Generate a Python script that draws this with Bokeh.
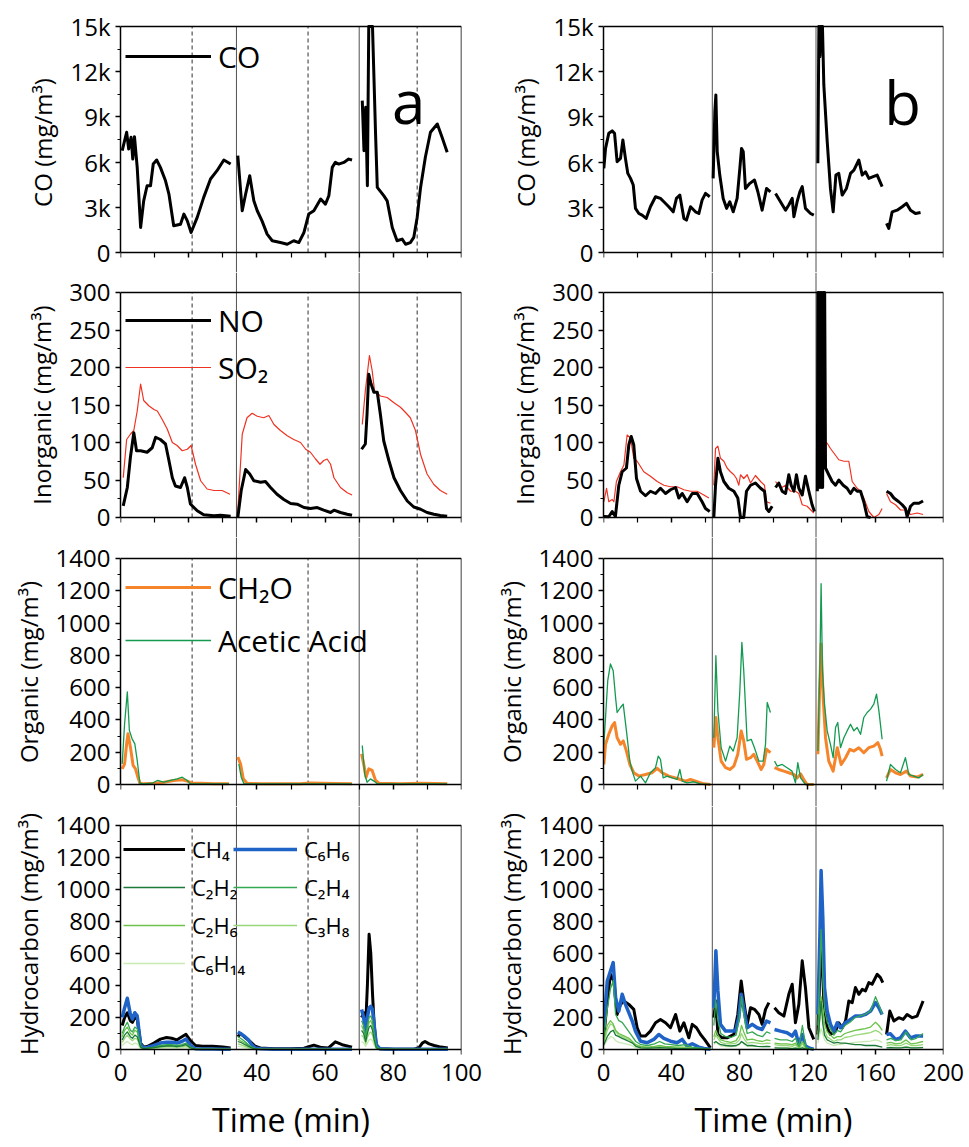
import numpy as np
from bokeh.plotting import figure
from bokeh.models import (Range1d, LinearAxis, FixedTicker, Legend, LegendItem, Label,
                          CustomJSTickFormatter)
from bokeh.layouts import gridplot
from bokeh.embed import file_html
from bokeh.resources import INLINE

nan = float("nan")

# ---------------------------------------------------------------- data (a)
x_ticks_a = [0, 20, 40, 60, 80, 100]
x_minor_a = [10, 30, 50, 70, 90]
events_a = [34, 70]
dashes_a = [21, 55, 87]

co_a_t = [[0.5, 1.8, 2.4, 3.1, 3.6, 4.1, 4.9, 5.9, 6.8, 7.8, 8.8, 9.6, 10.6, 11.7, 13.2, 14.2, 15.6, 17.6, 18.6, 19.6, 20.7, 22.5, 24.4, 26.4, 28.3, 30.3, 32.3],
          [34.4, 35.7, 36.7, 37.9, 39.1, 40.1, 41.5, 43.0, 44.5, 46.9, 48.9, 50.8, 52.3, 53.8, 55.2, 56.7, 58.7, 60.1, 61.1, 62.1, 63.0, 64.0, 65.5, 66.9, 67.9],
          [70.9, 71.4, 71.9, 72.4, 72.8, 73.9, 74.8, 75.3, 77.2, 78.2, 79.7, 81.1, 82.6, 83.6, 85.0, 86.0, 87.0, 88.0, 89.4, 90.9, 92.9, 94.3, 95.8]]
co_a = [[6760, 7980, 6870, 7650, 6200, 7690, 5650, 1660, 3430, 4430, 4430, 5870, 6140, 5650, 4760, 3880, 1770, 1880, 2550, 2100, 1330, 2330, 3660, 4880, 5430, 6140, 5870],
        [6430, 2770, 3880, 5100, 3430, 2770, 2100, 1220, 780, 660, 550, 780, 660, 1330, 2550, 2770, 3550, 3210, 3770, 5650, 5980, 5870, 5980, 6200, 6140],
        [10080, 6760, 9640, 4430, 16500, 16500, 7870, 4320, 3770, 3430, 1660, 780, 890, 550, 660, 1000, 2330, 4320, 6320, 7980, 8530, 7650, 6650]]

no_a_t = [[0.8, 2.0, 2.9, 3.9, 4.7, 5.9, 7.8, 9.3, 10.3, 11.7, 13.2, 14.2, 15.2, 16.1, 17.6, 18.8, 19.6, 20.5, 22.5, 24.4, 27.4, 29.3, 32.3],
          [34.4, 35.4, 36.7, 37.9, 39.1, 41.1, 42.5, 44.0, 45.9, 47.9, 49.9, 51.8, 53.8, 55.7, 57.7, 59.6, 61.6, 62.6, 64.5, 66.5, 67.9],
          [70.7, 71.8, 72.3, 72.8, 73.5, 74.3, 75.3, 76.2, 77.2, 78.7, 80.2, 82.1, 84.1, 86.0, 88.0, 89.9, 91.9, 93.8, 95.8]]
no_a = [[15.6, 40, 80, 113, 89, 89, 87, 93, 107, 104, 98, 76, 53, 42, 40, 53, 40, 18, 9, 3.6, 2.2, 3, 1.8],
        [0, 36, 64, 58, 49, 47, 48, 40, 31, 24, 18.7, 17.8, 13.3, 12, 13.3, 9.8, 6.7, 9.8, 6.7, 4.4, 3],
        [91, 98, 138, 191, 178, 167, 167, 138, 102, 76, 53, 36, 22, 14, 11, 6.7, 4.4, 2.7, 1.8]]

so2_a_t = [[0.8, 1.8, 2.9, 3.9, 4.9, 5.9, 6.8, 8.3, 9.8, 10.8, 12.2, 13.7, 15.2, 16.6, 18.1, 19.6, 20.7, 22.0, 23.5, 25.4, 27.4, 29.8, 32.1],
           [34.4, 35.7, 37.1, 38.6, 40.1, 42.0, 43.5, 45.0, 46.9, 48.9, 50.8, 52.8, 54.3, 55.7, 57.2, 58.5, 59.6, 60.6, 61.6, 62.6, 64.5, 66.5, 67.9],
           [70.9, 71.8, 73.0, 73.8, 74.5, 76.2, 78.2, 80.2, 82.1, 83.6, 85.0, 86.5, 88.0, 89.9, 91.9, 93.8, 95.8]]
so2_a = [[53, 104, 111, 116, 142, 178, 156, 149, 144, 142, 131, 118, 100, 96, 89, 91, 96, 71, 49, 38, 36, 36, 31],
         [9, 111, 133, 139, 135, 133, 136, 124, 116, 109, 104, 100, 91, 87, 78, 71, 76, 78, 71, 53, 40, 33, 30],
         [124, 169, 216, 196, 169, 162, 160, 153, 147, 140, 133, 116, 84, 58, 44, 36, 31]]

ch2o_a_t = [[0.5, 1.2, 1.8, 2.2, 2.9, 3.7, 4.4, 5.1, 5.7, 6.8, 9.8, 12.7, 15.6, 18.1, 19.6, 21.0, 23.5, 27.4, 31.8],
            [34.4, 35.2, 36.0, 37.1, 41.1, 52.8, 55.7, 62.6, 67.9],
            [70.7, 71.4, 72.0, 72.8, 73.8, 74.8, 75.8, 82.1, 88.0, 95.8]]
ch2o_a = [[97, 128, 252, 314, 232, 118, 97, 45, 8, 4, 8, 14, 25, 29, 21, 8, 8, 4, 4],
          [170, 128, 35, 8, 4, 4, 10, 6, 4],
          [190, 118, 45, 97, 87, 25, 8, 4, 8, 4]]

acetic_a_t = [[0.5, 1.2, 2.0, 2.6, 3.4, 4.2, 4.9, 5.7, 6.8, 9.3, 10.8, 12.7, 14.7, 16.6, 18.1, 19.6, 20.5, 25.0, 31.8],
              [34.7, 35.4, 36.2, 50.0, 67.9],
              [70.9, 71.6, 72.3, 73.3, 74.3, 75.3, 85.0, 95.8]]
acetic_a = [[128, 376, 573, 335, 283, 252, 149, 8, 4, 8, 25, 14, 25, 35, 45, 25, 4, 4, 4],
            [128, 45, 4, 4, 4],
            [242, 66, 14, 35, 21, 4, 4, 4]]

hc_a_t = [[0.5, 1.2, 2.0, 2.9, 3.5, 4.2, 4.9, 5.9, 6.8, 8.0, 9.8, 11.7, 13.5, 15.0, 16.5, 18.0, 19.2, 20.5, 22.0, 24.0, 27.0, 30.0, 32.3],
          [34.4, 35.2, 36.5, 37.5, 38.5, 39.5, 41.0, 45.0, 50.0, 53.8, 56.7, 59.0, 61.0, 63.0, 65.0, 67.9],
          [70.7, 71.3, 71.9, 72.4, 72.9, 73.4, 73.9, 74.4, 75.0, 76.0, 80.0, 86.0, 87.5, 88.5, 89.3, 90.5, 92.0, 94.0, 96.0]]
ch4_a = [[150, 200, 230, 180, 170, 200, 190, 40, 15, 20, 40, 65, 75, 70, 60, 80, 95, 55, 25, 20, 20, 15, 10],
         [80, 100, 75, 60, 40, 20, 10, 5, 5, 8, 27, 12, 10, 48, 30, 15],
         [200, 230, 150, 400, 720, 600, 350, 150, 30, 5, 2, 2, 10, 40, 50, 35, 25, 15, 10]]
c6h6_a = [[200, 260, 320, 220, 190, 230, 210, 30, 10, 15, 25, 40, 45, 45, 40, 50, 65, 25, 5, 3, 3, 2, 2],
          [110, 100, 80, 60, 30, 10, 5, 2, 2, 2, 2, 2, 2, 2, 2, 2],
          [250, 200, 100, 200, 260, 270, 250, 150, 30, 5, 2, 2, 2, 2, 2, 2, 2, 2, 2]]
c2h2_a = [[60, 90, 110, 80, 70, 90, 80, 15, 4, 8, 12, 18, 22, 22, 18, 22, 30, 10, 2, 1, 1, 1, 1],
          [50, 45, 30, 20, 10, 3, 1, 1, 1, 1, 1, 1, 1, 1, 1, 1],
          [120, 100, 50, 100, 140, 150, 120, 60, 10, 2, 1, 1, 1, 1, 1, 1, 1, 1, 1]]
c2h4_a = [[100, 140, 170, 120, 110, 140, 130, 20, 5, 10, 15, 25, 30, 30, 25, 30, 40, 15, 3, 2, 2, 1, 1],
          [80, 70, 50, 30, 15, 5, 2, 1, 1, 1, 1, 1, 1, 1, 1, 1],
          [180, 150, 80, 150, 200, 210, 180, 100, 20, 3, 1, 1, 1, 1, 1, 1, 1, 1, 1]]
c2h6_a = [[80, 120, 140, 100, 90, 120, 110, 15, 4, 8, 12, 20, 25, 25, 20, 25, 35, 12, 2, 1, 1, 1, 1],
          [65, 55, 40, 25, 12, 4, 1, 1, 1, 1, 1, 1, 1, 1, 1, 1],
          [150, 120, 60, 120, 170, 180, 150, 80, 15, 2, 1, 1, 1, 1, 1, 1, 1, 1, 1]]
c3h8_a = [[45, 70, 90, 65, 55, 70, 65, 10, 3, 6, 9, 14, 16, 16, 14, 16, 22, 8, 1, 1, 1, 1, 1],
          [35, 30, 20, 12, 6, 2, 1, 1, 1, 1, 1, 1, 1, 1, 1, 1],
          [90, 75, 35, 75, 100, 110, 90, 45, 8, 1, 1, 1, 1, 1, 1, 1, 1, 1, 1]]
c6h14_a = [[25, 40, 50, 35, 30, 40, 35, 6, 2, 4, 6, 8, 10, 10, 8, 10, 14, 5, 1, 1, 1, 1, 1],
           [20, 18, 12, 8, 4, 1, 1, 1, 1, 1, 1, 1, 1, 1, 1, 1],
           [50, 40, 20, 40, 60, 65, 55, 25, 5, 1, 1, 1, 1, 1, 1, 1, 1, 1, 1]]

# ---------------------------------------------------------------- data (b)
x_ticks_b = [0, 40, 80, 120, 160, 200]
x_minor_b = [20, 60, 100, 140, 180]
events_b = [64, 125]

co_b_t = [[0.2, 1.2, 3.1, 5.1, 6.5, 8.0, 10.0, 11.4, 12.9, 14.3, 15.9, 17.5, 18.8, 20.8, 22.7, 25.1, 27.6, 30.6, 33.5, 35.5, 38.4, 41.0, 42.9, 44.9, 47.3, 48.8, 51.2, 54.1, 56.1, 58.0, 60.0, 62.5],
          [64.5, 65.5, 66.1, 66.9, 68.4, 70.4, 72.4, 74.3, 76.3, 78.6, 80.2, 81.2, 82.2, 83.5, 86.1, 88.8, 90.8, 93.3, 95.9, 98.2],
          [101.2, 104.1, 107.1, 109.0, 111.0, 112.0, 113.9, 115.5, 116.9, 118.8, 121.8, 123.7],
          [126.1, 126.4, 126.7, 127.3, 127.8, 128.8, 129.6, 131.6, 133.5, 135.1, 136.7, 138.4, 140.4, 142.9, 145.3, 147.3, 150.2, 152.2, 154.1, 156.1, 158.6, 161.0, 163.9],
          [166.5, 167.8, 169.8, 172.7, 175.7, 178.2, 180.6, 183.5, 186.5]]
co_b = [[5580, 6910, 7910, 8070, 7910, 6030, 6250, 7470, 6250, 5250, 4920, 4480, 2930, 2590, 2480, 2260, 3040, 3700, 3590, 3370, 3040, 2700, 3590, 3810, 2260, 2150, 3040, 2700, 2590, 3480, 3920, 3700],
        [4920, 9350, 10460, 6690, 5140, 3590, 2930, 3370, 2700, 3590, 5580, 6910, 6690, 4250, 4590, 4810, 4030, 2810, 4250, 4030],
        [3920, 3370, 2810, 3150, 3590, 2370, 3370, 4030, 4370, 2930, 2590, 2480],
        [5920, 10500, 16500, 13000, 16500, 16500, 11120, 7360, 4250, 2700, 5140, 5250, 3810, 4250, 5250, 5470, 6140, 5140, 5360, 4920, 5030, 5140, 4370],
        [1930, 1600, 2700, 2810, 3040, 3260, 2810, 2590, 2660]]

no_b_t = [[0.2, 3.1, 5.1, 7.0, 9.0, 11.0, 13.5, 14.9, 16.3, 17.8, 19.4, 21.8, 24.7, 27.6, 30.6, 33.5, 36.5, 39.4, 42.4, 44.3, 46.3, 49.2, 52.2, 55.1, 58.0, 60.0, 62.5],
          [64.9, 65.9, 67.3, 68.8, 70.8, 73.7, 76.7, 79.0, 80.6, 82.5, 84.1, 86.5, 89.4, 92.4, 94.7, 95.9, 97.3, 99.2],
          [101.2, 103.1, 105.1, 107.1, 109.0, 110.4, 112.0, 113.5, 114.9, 116.9, 118.8, 120.8, 122.7, 124.1],
          [125.8, 126.1, 126.5, 126.9, 127.3, 127.7, 128.1, 128.5, 128.9, 129.3, 129.7, 130.1, 130.6, 132.5, 134.5, 136.5, 138.4, 141.0, 143.3, 145.3, 147.3, 149.2, 151.2, 153.1, 155.1, 157.1],
          [166.5, 168.8, 170.8, 173.7, 175.7, 177.6, 178.6, 180.6, 182.5, 185.5, 188.0]]
no_b = [[1.3, 1, 8, 1.3, 43, 61, 66, 97, 108, 97, 52, 35, 29, 35, 32, 39, 32, 37, 40, 26, 32, 21, 32, 32, 21, 12, 8],
        [0, 43, 79, 61, 48, 39, 35, 26, 0, 0, 35, 43, 46, 39, 35, 12, 8, 15],
        [40, 46, 35, 32, 57, 43, 35, 57, 39, 30, 55, 35, 17, 8],
        [35, 400, 40, 400, 40, 400, 40, 400, 40, 400, 160, 400, 66, 57, 48, 43, 50, 43, 39, 32, 39, 35, 35, 21, 1, 0],
        [35, 32, 26, 21, 17, 12, 1, 15, 19, 19, 22]]

so2_b_t = [[0.2, 1.8, 3.1, 5.1, 6.1, 7.6, 10.0, 12.0, 13.9, 15.9, 17.8, 19.8, 23.7, 27.6, 31.6, 35.5, 39.4, 43.3, 47.3, 51.2, 55.1, 59.0, 62.0],
           [64.9, 65.9, 67.3, 68.8, 70.8, 72.7, 74.7, 76.7, 78.2, 79.6, 80.6, 82.5, 84.5, 86.5, 89.4, 92.4, 94.7, 95.9, 98.2],
           [101.2, 104.1, 107.1, 110.0, 112.9, 114.9, 116.9, 119.8, 123.7],
           [126.0, 128.0, 130.6, 131.6, 133.5, 135.5, 138.4, 141.4, 144.3, 146.3, 149.2, 151.2, 153.1, 156.1, 159.0, 162.0, 163.9],
           [166.5, 168.8, 171.8, 174.7, 177.6, 180.6, 184.5, 188.0]]
so2_b = [[21, 39, 21, 24, 21, 48, 61, 70, 110, 106, 79, 75, 61, 55, 48, 43, 41, 41, 37, 35, 35, 30, 26],
         [43, 92, 95, 79, 75, 66, 61, 57, 52, 43, 57, 52, 57, 46, 56, 48, 43, 21, 19],
         [48, 39, 43, 35, 35, 32, 17, 15, 6],
         [120, 250, 100, 99, 92, 86, 77, 75, 75, 48, 39, 35, 26, 8, 0, 4, 12],
         [32, 21, 17, 10, 10, 4, 6, 4]]

ch2o_b_t = [[0.2, 1.2, 3.1, 5.1, 6.5, 8.0, 10.0, 11.6, 13.5, 15.5, 17.8, 20.8, 24.7, 28.6, 31.6, 34.5, 38.4, 42.4, 45.3, 48.2, 51.2, 55.1, 59.0, 62.9],
            [64.9, 66.1, 67.3, 69.2, 71.8, 74.3, 76.7, 79.0, 81.0, 82.5, 84.1, 86.5, 88.4, 90.4, 92.7, 94.3, 95.9, 98.2],
            [100.6, 103.1, 106.1, 109.0, 112.0, 113.9, 115.9, 117.8, 119.8, 123.7],
            [126.1, 127.1, 128.0, 129.2, 130.6, 132.5, 135.1, 137.5, 139.8, 142.4, 144.9, 147.3, 150.2, 153.1, 156.1, 159.0, 161.4, 162.9, 163.9],
            [166.5, 168.8, 171.8, 174.7, 178.2, 180.6, 184.5, 188.0]]
ch2o_b = [[124, 249, 311, 363, 384, 290, 249, 270, 207, 124, 73, 52, 62, 73, 100, 73, 52, 41, 31, 21, 31, 17, 4, 0],
          [228, 415, 290, 145, 104, 93, 114, 187, 332, 270, 156, 166, 187, 145, 93, 124, 218, 197],
          [104, 93, 83, 73, 62, 41, 66, 31, 0, 0],
          [187, 581, 871, 539, 290, 145, 83, 228, 124, 166, 218, 207, 228, 197, 228, 238, 259, 218, 176],
          [41, 93, 73, 62, 83, 52, 46, 62]]

acetic_b_t = [[0.2, 1.2, 2.5, 4.1, 5.7, 7.1, 8.0, 10.0, 11.6, 13.5, 15.5, 16.9, 18.8, 21.8, 24.7, 27.6, 30.6, 32.2, 33.5, 35.1, 37.5, 40.4, 43.3, 44.9, 46.3, 49.2, 53.1, 57.1, 62.9],
              [64.9, 66.1, 67.3, 69.2, 71.8, 74.3, 76.3, 78.6, 80.2, 81.4, 82.5, 84.5, 86.9, 88.8, 91.4, 93.9, 95.3, 96.3, 98.2],
              [100.6, 102.2, 105.1, 108.0, 110.9, 112.9, 114.3, 115.9, 118.8, 123.7],
              [126.1, 127.3, 128.0, 128.8, 130.0, 131.6, 133.5, 135.1, 136.5, 137.8, 139.4, 141.4, 143.3, 145.3, 147.3, 149.2, 151.2, 153.1, 155.1, 157.1, 159.0, 160.6, 162.0, 163.9],
              [166.5, 168.8, 171.8, 174.7, 177.6, 179.6, 182.5, 185.5, 188.0]]
acetic_b = [[249, 415, 643, 747, 705, 539, 446, 477, 498, 332, 145, 83, 21, 52, 10, 73, 104, 176, 156, 41, 52, 41, 31, 93, 21, 10, 17, 4, 0],
            [290, 798, 456, 228, 145, 238, 207, 290, 581, 881, 705, 270, 280, 228, 145, 145, 249, 508, 446],
            [145, 114, 124, 104, 83, 10, 135, 41, 0, 0],
            [207, 747, 1244, 705, 498, 332, 249, 166, 353, 384, 228, 290, 332, 373, 332, 353, 311, 415, 446, 467, 498, 560, 456, 280],
            [21, 124, 93, 73, 166, 62, 52, 41, 62]]

ch4_b_t = [[0.2, 2.2, 4.1, 6.1, 8.0, 10.0, 12.0, 14.9, 17.8, 19.8, 21.8, 24.7, 27.6, 30.6, 33.5, 36.5, 39.4, 42.4, 44.9, 47.3, 50.2, 52.2, 54.7, 57.1, 59.4, 62.9],
           [64.9, 66.1, 67.3, 69.8, 72.7, 76.7, 79.0, 81.0, 82.5, 84.5, 86.5, 88.8, 91.4, 93.3, 95.3, 97.3],
           [100.6, 103.1, 106.1, 109.0, 111.0, 112.9, 114.9, 116.9, 118.8, 120.8, 123.7],
           [126.1, 128.0, 129.6, 131.6, 133.5, 136.5, 138.4, 140.4, 142.4, 144.3, 146.3, 148.2, 150.2, 152.2, 154.1, 156.1, 158.0, 161.0, 162.9, 164.3],
           [166.5, 168.4, 170.8, 173.7, 176.3, 178.6, 181.6, 184.5, 188.0]]
ch4_b = [[84, 303, 470, 428, 219, 282, 303, 282, 251, 136, 84, 84, 115, 167, 188, 167, 136, 219, 115, 167, 73, 157, 136, 94, 63, 10],
         [199, 303, 94, 73, 73, 94, 219, 428, 303, 157, 261, 251, 219, 157, 251, 293],
         [261, 230, 209, 345, 408, 167, 282, 554, 387, 136, 63],
         [94, 720, 303, 136, 94, 115, 167, 136, 178, 303, 293, 387, 345, 376, 366, 418, 408, 470, 449, 418],
         [94, 240, 178, 199, 188, 219, 199, 209, 303]]

c6h6_b_t = [[0.2, 2.2, 4.1, 5.7, 7.1, 9.0, 11.0, 12.9, 14.9, 16.9, 18.8, 21.8, 25.7, 29.6, 32.5, 35.5, 39.4, 43.3, 46.3, 49.2, 52.2, 56.1, 59.0, 62.9],
            [64.9, 66.1, 67.3, 68.8, 71.8, 74.7, 77.6, 79.6, 81.0, 82.5, 84.5, 87.5, 90.4, 93.3, 95.9, 98.2],
            [100.6, 104.1, 108.0, 111.0, 112.9, 114.9, 116.9, 118.8, 121.8, 123.7],
            [126.1, 127.3, 128.0, 129.0, 130.0, 131.6, 133.5, 135.5, 137.5, 139.4, 142.4, 145.3, 148.2, 151.2, 154.1, 157.1, 160.0, 162.0, 163.9],
            [166.5, 168.8, 171.8, 174.7, 177.6, 180.6, 183.5, 188.0]]
c6h6_b = [[136, 428, 491, 543, 324, 240, 345, 282, 230, 178, 115, 52, 42, 63, 94, 69, 52, 42, 63, 21, 36, 15, 6, 2],
          [261, 617, 366, 157, 115, 115, 115, 199, 345, 261, 136, 157, 136, 125, 178, 167],
          [125, 115, 105, 84, 115, 31, 94, 21, 6, 2],
          [219, 721, 1118, 826, 387, 240, 157, 115, 167, 136, 167, 188, 209, 209, 219, 240, 293, 261, 219],
          [94, 98, 63, 73, 115, 73, 84, 84]]

hc_b_t = [[0.2, 2.2, 4.1, 5.7, 7.1, 9.0, 11.0, 13.0, 15.0, 17.0, 19.0, 22.0, 26.0, 30.0, 33.0, 36.0, 40.0, 44.0, 48.0, 52.0, 56.0, 60.0, 63.0],
          [64.9, 66.1, 67.3, 69.0, 72.0, 75.0, 78.0, 80.0, 81.2, 82.5, 84.5, 87.5, 90.5, 93.5, 96.0, 98.2],
          [100.6, 104.0, 108.0, 111.0, 113.0, 115.0, 117.0, 119.0, 121.0, 123.7],
          [126.1, 127.3, 128.0, 129.0, 130.0, 131.6, 133.5, 135.5, 137.5, 139.5, 142.0, 145.0, 148.0, 151.0, 154.0, 157.0, 160.0, 162.0, 164.0],
          [166.5, 169.0, 172.0, 175.0, 178.0, 181.0, 184.0, 188.0]]
c2h2_b = [[30, 80, 110, 120, 90, 80, 70, 60, 50, 40, 20, 10, 8, 10, 12, 10, 8, 6, 6, 4, 3, 2, 1],
          [40, 50, 40, 30, 25, 22, 25, 35, 50, 40, 25, 25, 20, 18, 20, 18],
          [10, 8, 8, 6, 8, 4, 10, 3, 1, 1],
          [60, 200, 300, 160, 90, 60, 50, 40, 45, 40, 40, 35, 30, 30, 25, 25, 25, 20, 15],
          [10, 12, 10, 10, 15, 10, 10, 12]]
c2h4_b = [[80, 250, 380, 430, 220, 180, 170, 140, 110, 80, 50, 30, 25, 35, 50, 35, 30, 25, 30, 15, 10, 5, 2],
          [150, 310, 180, 100, 80, 75, 90, 200, 330, 220, 100, 110, 90, 80, 110, 100],
          [70, 60, 60, 50, 70, 20, 150, 15, 5, 2],
          [150, 500, 750, 450, 250, 170, 130, 90, 120, 110, 150, 170, 200, 210, 220, 240, 330, 280, 220],
          [60, 70, 55, 60, 110, 60, 70, 100]]
c2h6_b = [[60, 150, 180, 160, 120, 100, 90, 80, 70, 50, 30, 20, 15, 20, 25, 20, 18, 15, 15, 10, 6, 3, 1],
          [80, 120, 90, 60, 50, 45, 55, 90, 150, 110, 60, 65, 55, 50, 60, 55],
          [40, 35, 35, 30, 40, 12, 50, 10, 3, 1],
          [100, 250, 330, 250, 160, 110, 90, 70, 80, 80, 100, 110, 120, 125, 130, 140, 170, 150, 120],
          [40, 45, 35, 40, 60, 35, 40, 50]]
c3h8_b = [[40, 120, 160, 150, 110, 90, 80, 70, 60, 45, 25, 15, 12, 15, 18, 15, 12, 10, 10, 8, 5, 2, 1],
          [60, 90, 70, 45, 35, 35, 40, 60, 100, 70, 40, 45, 40, 35, 40, 38],
          [30, 25, 25, 20, 30, 8, 35, 6, 2, 1],
          [80, 200, 260, 200, 120, 80, 65, 50, 60, 60, 75, 80, 90, 95, 100, 105, 120, 110, 90],
          [25, 30, 25, 25, 40, 25, 25, 30]]
c6h14_b = [[20, 60, 80, 75, 55, 45, 40, 35, 30, 22, 12, 8, 6, 8, 9, 8, 6, 5, 5, 4, 2, 1, 1],
           [30, 45, 35, 22, 18, 18, 20, 30, 50, 35, 20, 22, 20, 18, 20, 19],
           [15, 12, 12, 10, 15, 4, 18, 3, 1, 1],
           [40, 100, 130, 100, 60, 40, 32, 25, 30, 30, 38, 40, 45, 48, 50, 52, 60, 55, 45],
           [12, 15, 12, 12, 20, 12, 12, 15]]

# axis scales
co_ticks = [0, 3000, 6000, 9000, 12000, 15000]
co_minor = [1500, 4500, 7500, 10500, 13500]
inorg_ticks = [0, 50, 100, 150, 200, 250, 300]
inorg_minor = [25, 75, 125, 175, 225, 275]
org_ticks = [0, 200, 400, 600, 800, 1000, 1200, 1400]
org_minor = [100, 300, 500, 700, 900, 1100, 1300]

# ---------------------------------------------------------------- styling
FONT = "Open Sans"
C_SO2 = "#ee3322"
C_CH2O = "#f5842a"
C_AC = "#139a50"
C_C6H6 = "#1f63c6"
C_C2H2 = "#1c7a3a"
C_C2H4 = "#35a853"
C_C2H6 = "#6cc24a"
C_C3H8 = "#98d87a"
C_C6H14 = "#c9eab4"

# frame_px, pad_above, pad_below, panel_px, border_top, border_bottom
ROWS = [(260, 14, 20, 226, 12, 0),
        (265, 20, 20, 225, 0, 0),
        (269, 21, 22, 226, 0, 0),
        (255, 19, 12, 224, 0, 84)]
COLS = [dict(width=490, left=120, right=29, xmax=100),
        dict(width=475, left=113, right=22, xmax=200)]


def join(segs):
    out = []
    for i, s in enumerate(segs):
        if i:
            out.append(nan)
        out.extend(s)
    return np.array(out, dtype=float)


def style_axis(ax):
    ax.axis_line_width = 1.5
    ax.axis_line_color = "black"
    ax.major_tick_line_width = 1.5
    ax.major_tick_line_color = "black"
    ax.minor_tick_line_width = 1.2
    ax.minor_tick_line_color = "black"


def panel(col, row, ytop, yticks, yminor, ylabel, kfmt=False):
    frame_px, pa, pb, ppx, bt, bb = ROWS[row]
    c = COLS[col]
    per = ytop / ppx
    y0, y1 = -pb * per, ytop + pa * per
    xmax = c["xmax"]
    p = figure(width=c["width"], height=frame_px + bt + bb,
               x_range=Range1d(0, xmax), y_range=Range1d(y0, y1),
               x_axis_type=None, y_axis_type=None, toolbar_location=None,
               output_backend="svg",
               min_border_left=c["left"], min_border_right=c["right"],
               min_border_top=bt, min_border_bottom=bb)
    p.outline_line_color = None
    p.background_fill_color = "white"
    p.border_fill_color = "white"

    ya = LinearAxis(ticker=FixedTicker(ticks=yticks, minor_ticks=yminor), bounds=(0, ytop),
                    axis_label=ylabel)
    if kfmt:
        ya.formatter = CustomJSTickFormatter(code="return tick >= 1000 ? (tick/1000) + 'k' : '' + tick;")
    ya.major_tick_out = 5
    ya.major_tick_in = 0
    ya.minor_tick_out = 3
    ya.minor_tick_in = 0
    ya.major_label_standoff = 5
    ya.axis_label_standoff = 8
    ya.major_label_text_font = FONT
    ya.major_label_text_font_size = "24px"
    ya.major_label_text_color = "black"
    ya.axis_label_text_font = FONT
    ya.axis_label_text_font_size = "24px"
    ya.axis_label_text_font_style = "normal"
    ya.axis_label_text_color = "black"
    style_axis(ya)
    p.add_layout(ya, "left")

    xt = FixedTicker(ticks=x_ticks_a if col == 0 else x_ticks_b,
                     minor_ticks=x_minor_a if col == 0 else x_minor_b)
    # tick marks at the panel bottom
    xa = LinearAxis(ticker=xt, fixed_location=0)
    xa.major_label_text_color = None
    xa.major_tick_out = 5
    xa.major_tick_in = 0
    xa.minor_tick_out = 5
    xa.minor_tick_in = 0
    style_axis(xa)
    p.add_layout(xa, "below")
    if row == 3:
        xl = LinearAxis(ticker=xt, axis_label="Time (min)")
        xl.axis_line_color = None
        xl.major_tick_out = 0
        xl.major_tick_in = 0
        xl.minor_tick_out = 0
        xl.minor_tick_in = 0
        xl.major_label_text_font = FONT
        xl.major_label_text_font_size = "24px"
        xl.major_label_text_color = "black"
        xl.axis_label_text_font = FONT
        xl.axis_label_text_font_size = "32px"
        xl.axis_label_text_font_style = "normal"
        xl.axis_label_text_color = "black"
        xl.major_label_standoff = 2
        xl.axis_label_standoff = 14
        p.add_layout(xl, "below")

    top = LinearAxis(ticker=FixedTicker(ticks=[]), fixed_location=ytop)
    right = LinearAxis(ticker=FixedTicker(ticks=[]), fixed_location=xmax, bounds=(0, ytop))
    for ax, side in ((top, "above"), (right, "right")):
        ax.major_tick_out = 0
        ax.minor_tick_out = 0
        ax.major_label_text_color = None
        style_axis(ax)
        p.add_layout(ax, side)

    # event markers
    ev = events_a if col == 0 else events_b
    lo = 0 if row == 3 else y0
    hi = ytop if row == 0 else y1
    p.segment(x0=ev, y0=[lo] * len(ev), x1=ev, y1=[hi] * len(ev),
              line_color="#505050", line_width=1)
    if col == 0:
        p.segment(x0=dashes_a, y0=[0] * len(dashes_a), x1=dashes_a, y1=[ytop] * len(dashes_a),
                  line_color="#303030", line_width=1, line_dash="4 3")
    p._ytop = ytop
    return p


def draw(p, t, y, color, width):
    return p.line(join(t), np.minimum(join(y), p._ytop), line_color=color, line_width=width,
                  line_join="round")


def add_legend(p, items, loc, size, glyph_w, label_h, spacing):
    lg = Legend(items=[LegendItem(label=l, renderers=[r]) for l, r in items], location=loc,
                label_text_font=FONT, label_text_font_size=size, label_text_color="black",
                glyph_width=glyph_w, glyph_height=label_h, label_height=label_h,
                label_standoff=7, spacing=spacing, padding=0, margin=0,
                border_line_color=None, background_fill_alpha=0)
    p.add_layout(lg)


# ---------------------------------------------------------------- column a
a1 = panel(0, 0, 15000, co_ticks, co_minor, "CO (mg/m³)", kfmt=True)
r = draw(a1, co_a_t, co_a, "black", 3)
add_legend(a1, [("CO", r)], (5, 194), "30px", 86, 44, 0)
a1.add_layout(Label(x=84.5, y=10088, text="a", text_font=FONT, text_font_size="60px",
                    text_color="black", text_align="center", text_baseline="alphabetic"))

a2 = panel(0, 1, 300, inorg_ticks, inorg_minor, "Inorganic (mg/m³)")
r_so2 = draw(a2, so2_a_t, so2_a, C_SO2, 1.2)
r_no = draw(a2, no_a_t, no_a, "black", 3)
add_legend(a2, [("NO", r_no), ("SO₂", r_so2)], (5, 148), "30px", 86, 44, 3)

a3 = panel(0, 2, 1400, org_ticks, org_minor, "Organic (mg/m³)")
r_ch2o = draw(a3, ch2o_a_t, ch2o_a, C_CH2O, 3)
r_ac = draw(a3, acetic_a_t, acetic_a, C_AC, 1.3)
add_legend(a3, [("CH₂O", r_ch2o), ("Acetic Acid", r_ac)], (5, 144), "30px", 86, 44, 9)

a4 = panel(0, 3, 1400, org_ticks, org_minor, "Hydrocarbon (mg/m³)")
rh = {}
rh["CH4"] = draw(a4, hc_a_t, ch4_a, "black", 3)
rh["C6H6"] = draw(a4, hc_a_t, c6h6_a, C_C6H6, 3.5)
rh["C6H14"] = draw(a4, hc_a_t, c6h14_a, C_C6H14, 1.3)
rh["C3H8"] = draw(a4, hc_a_t, c3h8_a, C_C3H8, 1.3)
rh["C2H6"] = draw(a4, hc_a_t, c2h6_a, C_C2H6, 1.3)
rh["C2H4"] = draw(a4, hc_a_t, c2h4_a, C_C2H4, 1.3)
rh["C2H2"] = draw(a4, hc_a_t, c2h2_a, C_C2H2, 1.3)
add_legend(a4, [("CH₄", rh["CH4"]), ("C₂H₂", rh["C2H2"]), ("C₂H₆", rh["C2H6"]),
                ("C₆H₁₄", rh["C6H14"])], (3, 82), "22px", 62, 32, 6)
add_legend(a4, [("C₆H₆", rh["C6H6"]), ("C₂H₄", rh["C2H4"]), ("C₃H₈", rh["C3H8"])],
           (113, 120), "22px", 64, 32, 6)

# ---------------------------------------------------------------- column b
b1 = panel(1, 0, 15000, co_ticks, co_minor, "CO (mg/m³)", kfmt=True)
draw(b1, co_b_t, co_b, "black", 3)
b1.add_layout(Label(x=176, y=9956, text="b", text_font=FONT, text_font_size="60px",
                    text_color="black", text_align="center", text_baseline="alphabetic"))

b2 = panel(1, 1, 300, inorg_ticks, inorg_minor, "Inorganic (mg/m³)")
draw(b2, so2_b_t, so2_b, C_SO2, 1.2)
draw(b2, no_b_t, no_b, "black", 3)

b3 = panel(1, 2, 1400, org_ticks, org_minor, "Organic (mg/m³)")
draw(b3, ch2o_b_t, ch2o_b, C_CH2O, 3)
draw(b3, acetic_b_t, acetic_b, C_AC, 1.3)

b4 = panel(1, 3, 1400, org_ticks, org_minor, "Hydrocarbon (mg/m³)")
draw(b4, ch4_b_t, ch4_b, "black", 3)
draw(b4, c6h6_b_t, c6h6_b, C_C6H6, 3.5)
draw(b4, hc_b_t, c6h14_b, C_C6H14, 1.3)
draw(b4, hc_b_t, c3h8_b, C_C3H8, 1.3)
draw(b4, hc_b_t, c2h6_b, C_C2H6, 1.3)
draw(b4, hc_b_t, c2h4_b, C_C2H4, 1.3)
draw(b4, hc_b_t, c2h2_b, C_C2H2, 1.3)

grid = gridplot([[a1, b1], [a2, b2], [a3, b3], [a4, b4]], toolbar_location=None)

open("out.html", "w").write(file_html(grid, INLINE))
